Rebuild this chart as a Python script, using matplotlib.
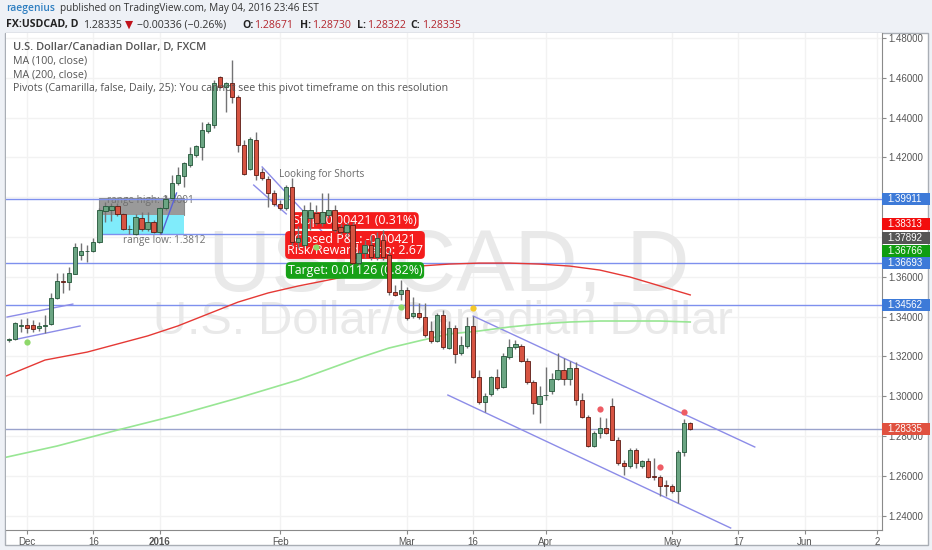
import matplotlib
matplotlib.use('Agg')
import matplotlib.pyplot as plt
import matplotlib.transforms as mtransforms
from matplotlib.patches import Rectangle
import numpy as np

plt.rcParams['font.family'] = ['Open Sans', 'DejaVu Sans']

# daily bars, bar 0 = 1 Dec 2015, last bar = 4 May 2016
first_bar = -3
opens = [1.3283, 1.3288, 1.3353, 1.3358, 1.3358, 1.3343, 1.3355, 1.3363, 1.3494, 1.3579,
         1.3574, 1.3614, 1.3710, 1.3728, 1.3730, 1.3775, 1.3931, 1.3936, 1.3956, 1.3916,
         1.3838, 1.3815, 1.3896, 1.3840, 1.3875, 1.3825, 1.3946, 1.3996, 1.4071, 1.4107,
         1.4162, 1.4212, 1.4252, 1.4333, 1.4363, 1.4604, 1.4554, 1.4574, 1.4504, 1.4262,
         1.4142, 1.4288, 1.4127, 1.4092, 1.4021, 1.3966, 1.3946, 1.4051, 1.3775, 1.3760,
         1.3896, 1.3921, 1.3870, 1.3911, 1.3936, 1.3850, 1.3825, 1.3860, 1.3669, 1.3720,
         1.3760, 1.3700, 1.3785, 1.3710, 1.3524, 1.3514, 1.3534, 1.3403, 1.3418, 1.3398,
         1.3328, 1.3278, 1.3408, 1.3242, 1.3343, 1.3217, 1.3252, 1.3353, 1.3097, 1.2971,
         1.3011, 1.3097, 1.3046, 1.3197, 1.3247, 1.3252, 1.3177, 1.3071, 1.2961, 1.3004,
         1.3026, 1.3087, 1.3132, 1.3087, 1.3142, 1.2981, 1.2896, 1.2750, 1.2815, 1.2840,
         1.2951, 1.2780, 1.2664, 1.2649, 1.2730, 1.2649, 1.2675, 1.2597, 1.2594, 1.2551,
         1.2549, 1.2524, 1.2720, 1.28671]
highs = [1.3293, 1.3373, 1.3388, 1.3393, 1.3383, 1.3373, 1.3408, 1.3519, 1.3619, 1.3619,
         1.3649, 1.3770, 1.3770, 1.3760, 1.3795, 1.3946, 1.3976, 1.3971, 1.3971, 1.3921,
         1.3860, 1.3916, 1.3926, 1.3926, 1.3886, 1.3951, 1.4011, 1.4112, 1.4152, 1.4177,
         1.4252, 1.4262, 1.4378, 1.4378, 1.4589, 1.4609, 1.4579, 1.4690, 1.4514, 1.4288,
         1.4303, 1.4328, 1.4147, 1.4107, 1.4036, 1.3986, 1.4061, 1.4097, 1.3855, 1.3961,
         1.3976, 1.3961, 1.4021, 1.4021, 1.3961, 1.3865, 1.3875, 1.3875, 1.3735, 1.3785,
         1.3810, 1.3825, 1.3835, 1.3735, 1.3559, 1.3584, 1.3549, 1.3499, 1.3468, 1.3468,
         1.3378, 1.3418, 1.3433, 1.3378, 1.3358, 1.3303, 1.3398, 1.3403, 1.3132, 1.3016,
         1.3102, 1.3137, 1.3217, 1.3288, 1.3283, 1.3262, 1.3192, 1.3082, 1.3051, 1.3147,
         1.3117, 1.3217, 1.3192, 1.3177, 1.3172, 1.3016, 1.2906, 1.2825, 1.2896, 1.2891,
         1.2991, 1.2795, 1.2680, 1.2740, 1.2740, 1.2680, 1.2690, 1.2690, 1.2604, 1.2579,
         1.2559, 1.2730, 1.2886, 1.28730]
lows = [1.3272, 1.3283, 1.3323, 1.3318, 1.3323, 1.3328, 1.3318, 1.3358, 1.3489, 1.3519,
        1.3534, 1.3614, 1.3684, 1.3674, 1.3725, 1.3770, 1.3875, 1.3880, 1.3906, 1.3835,
        1.3815, 1.3810, 1.3830, 1.3830, 1.3820, 1.3815, 1.3936, 1.3991, 1.4061, 1.4051,
        1.4152, 1.4202, 1.4187, 1.4323, 1.4348, 1.4549, 1.4428, 1.4473, 1.4227, 1.4112,
        1.4137, 1.4087, 1.4087, 1.3951, 1.3956, 1.3936, 1.3936, 1.3760, 1.3745, 1.3750,
        1.3835, 1.3860, 1.3855, 1.3896, 1.3825, 1.3815, 1.3805, 1.3659, 1.3659, 1.3695,
        1.3684, 1.3684, 1.3684, 1.3509, 1.3504, 1.3484, 1.3383, 1.3393, 1.3388, 1.3298,
        1.3267, 1.3272, 1.3237, 1.3237, 1.3167, 1.3207, 1.3242, 1.3092, 1.2961, 1.2921,
        1.3001, 1.3031, 1.3041, 1.3187, 1.3237, 1.3172, 1.3061, 1.2911, 1.2865, 1.2981,
        1.3011, 1.3082, 1.3056, 1.3056, 1.2956, 1.2891, 1.2745, 1.2745, 1.2790, 1.2810,
        1.2780, 1.2654, 1.2604, 1.2639, 1.2639, 1.2639, 1.2589, 1.2579, 1.2499, 1.2499,
        1.2514, 1.2464, 1.2700, 1.28322]
closes = [1.3288, 1.3368, 1.3358, 1.3343, 1.3338, 1.3353, 1.3358, 1.3494, 1.3579, 1.3574,
          1.3619, 1.3750, 1.3730, 1.3730, 1.3775, 1.3936, 1.3956, 1.3956, 1.3916, 1.3840,
          1.3840, 1.3901, 1.3840, 1.3875, 1.3825, 1.3946, 1.3991, 1.4071, 1.4112, 1.4172,
          1.4217, 1.4257, 1.4338, 1.4368, 1.4574, 1.4554, 1.4574, 1.4504, 1.4262, 1.4117,
          1.4293, 1.4112, 1.4097, 1.4021, 1.3966, 1.3946, 1.4051, 1.3775, 1.3795, 1.3936,
          1.3936, 1.3870, 1.3926, 1.3936, 1.3835, 1.3825, 1.3860, 1.3669, 1.3720, 1.3760,
          1.3700, 1.3795, 1.3700, 1.3524, 1.3509, 1.3534, 1.3393, 1.3418, 1.3398, 1.3308,
          1.3278, 1.3408, 1.3247, 1.3343, 1.3212, 1.3257, 1.3353, 1.3097, 1.2971, 1.3001,
          1.3097, 1.3041, 1.3202, 1.3247, 1.3262, 1.3177, 1.3071, 1.2966, 1.3001, 1.3006,
          1.3087, 1.3132, 1.3087, 1.3142, 1.2981, 1.2896, 1.2750, 1.2815, 1.2840, 1.2815,
          1.2780, 1.2664, 1.2649, 1.2730, 1.2664, 1.2675, 1.2594, 1.2594, 1.2549, 1.2549,
          1.2524, 1.2720, 1.2865, 1.28335]

# moving averages
ma100_bars = [-4, 3, 10, 20, 25, 30, 35, 40, 45, 50, 55, 60, 65, 70, 75, 80, 85, 90, 95, 100, 105, 110]
ma100 = [1.3095, 1.3182, 1.3222, 1.3303, 1.3353, 1.3413, 1.3473, 1.3519, 1.3554, 1.3584, 1.3614,
         1.3634, 1.3654, 1.3664, 1.3669, 1.3669, 1.3664, 1.3654, 1.3634, 1.3599, 1.3554, 1.3509]
ma200_bars = [-4, 5, 15, 25, 35, 45, 55, 60, 65, 70, 75, 80, 85, 90, 95, 100, 105, 110]
ma200 = [1.2690, 1.2750, 1.2830, 1.2906, 1.2991, 1.3082, 1.3192, 1.3242, 1.3278, 1.3313,
         1.3328, 1.3348, 1.3363, 1.3373, 1.3378, 1.3378, 1.3378, 1.3373]

# drawings
levels = [1.39911, 1.36693, 1.34562]
last_price = 1.28335
range_high = 1.3996
range_mid = 1.3911
range_low = 1.3815
range_bars = [12, 26]
trend_lines = [
    ([-3.3, 7.6], [1.3398, 1.3463]),
    ([-1.5, 8.8], [1.3288, 1.3353]),
    ([39.0, 49.8], [1.4152, 1.3800]),
    ([37.6, 43.0], [1.4061, 1.3916]),
    ([74.0, 120.7], [1.3403, 1.2745]),
    ([69.8, 116.7], [1.3006, 1.2338]),
]
jan_line = ([22.3, 24.8], [1.3815, 1.4021])
pivot_green = ([0, 48, 62], [1.3272, 1.3750, 1.3448])
pivot_yellow = ([74], [1.3443])
pivot_red = ([95, 105, 109], [1.2936, 1.2644, 1.2921])

y_ticks = [1.24, 1.26, 1.28, 1.30, 1.32, 1.34, 1.36, 1.38, 1.40, 1.42, 1.44, 1.46, 1.48]
x_tick_bars = [0, 11, 22, 42, 63, 74, 86, 107, 118, 129, 141]
x_tick_labels = ['Dec', '16', '2016', 'Feb', 'Mar', '16', 'Apr', 'May', '17', 'Jun', '2']

axis_tags = [1.39911, 1.38313, 1.37892, 1.36766, 1.36693, 1.34562, 1.28335]
axis_tag_colors = ['#3d7ad8', '#f20d0d', '#555555', '#0f9d0f', '#3d7ad8', '#3d7ad8', '#e0513f']
axis_tag_shift = [0.0, 0.0035, 0.0007, 0.0053, 0.0, 0.0003, 0.0]

W, H = 932, 550
fig = plt.figure(figsize=(W / 100, H / 100), dpi=100, facecolor='#eef1f6')
fig.patches.append(Rectangle((5 / W, 5 / H), 923 / W, 512 / H, transform=fig.transFigure,
                             fc='white', ec='#a9aeb5', lw=1, zorder=-5))
ax = fig.add_axes([6 / W, 20 / H, 876 / W, 497 / H])
ax.set_xlim(-3.48, 141.8)
ax.set_ylim(1.2328, 1.4825)

# grid
for yt in y_ticks:
    ax.axhline(yt, color='#f2f2f2', lw=1, zorder=0)
for xt in x_tick_bars:
    ax.axvline(xt, color='#f2f2f2', lw=1, zorder=0)

# watermark
ax.text(0.505, 0.527, 'USDCAD, D', transform=ax.transAxes, ha='center', va='center',
        fontsize=63, color='#e9e9e9', family='Liberation Sans', zorder=0.5)
ax.text(0.499, 0.418, 'U.S. Dollar/Canadian Dollar', transform=ax.transAxes, ha='center',
        va='center', fontsize=34, color='#e9e9e9', family='Liberation Sans', zorder=0.5)

# range box
ax.add_patch(Rectangle((range_bars[0], range_mid), range_bars[1] - range_bars[0],
                       range_high - range_mid, fc='#9a9a9a', ec='#8a8a8a', lw=0.8, zorder=1))
ax.add_patch(Rectangle((range_bars[0], range_low), range_bars[1] - range_bars[0],
                       range_mid - range_low, fc='#80ecfb', ec='none', zorder=1))
ax.text(13.3, 1.3981, 'range high: 1.4001', fontsize=7.2, color='#707070', va='center', zorder=1.5)
ax.text(15.9, 1.3780, 'range low: 1.3812', fontsize=7.2, color='#707070', va='center', zorder=1.5)
ax.plot([range_bars[0], 64], [range_low, range_low], color='#7e90ee', lw=1, zorder=2)

for lv in levels:
    ax.axhline(lv, color='#7e90ee', lw=1, zorder=2)
ax.axhline(last_price, color='#9aa3cc', lw=1, zorder=2)

for xs, ys in trend_lines:
    ax.plot(xs, ys, color='#8c8ce8', lw=1, zorder=2)
ax.plot(*jan_line, color='#5a62d8', lw=1, zorder=2)

ax.plot(ma100_bars, ma100, color='#e53935', lw=1, zorder=2)
ax.plot(ma200_bars, ma200, color='#98e694', lw=1.2, zorder=2)

ax.text(41.8, 1.4112, 'Looking for Shorts', fontsize=7.2, color='#6a6a6a', va='center', zorder=1.5)

# trade labels (candles sit on top of them)
box = dict(boxstyle='round,pad=0.15,rounding_size=0.35', ec='none')
ax.text(54.4, 1.3883, 'Stop: 0.00421 (0.31%)', fontsize=8.9, color='white', ha='center', va='center',
        zorder=3, bbox=dict(box, fc='#f41c1c'))
ax.text(54.4, 1.3760, 'Closed P&L: -0.00421\nRisk/Reward Ratio: 2.67', fontsize=8.9, color='white',
        ha='center', va='center', linespacing=0.82, zorder=3, bbox=dict(box, fc='#f41c1c'))
ax.text(54.4, 1.3632, 'Target: 0.01126 (0.82%)', fontsize=8.9, color='white', ha='center', va='center',
        zorder=3, bbox=dict(box, fc='#17a117'))

# candles
x = np.arange(first_bar, first_bar + len(opens))
o = np.array(opens)
c = np.array(closes)
up = c >= o
lo = np.minimum(o, c)
hgt = np.maximum(np.abs(c - o), 0.0003)
ax.vlines(x, lows, highs, color='#737375', lw=1, zorder=4)
ax.bar(x[up], hgt[up], 0.72, bottom=lo[up], color='#6ba583', edgecolor='#225437', lw=0.6, zorder=5)
ax.bar(x[~up], hgt[~up], 0.72, bottom=lo[~up], color='#d75442', edgecolor='#5b1a13', lw=0.6, zorder=5)

ax.plot(*pivot_green, 'o', color='#8ed86a', ms=4.5, mec='none', zorder=6)
ax.plot(*pivot_yellow, 'o', color='#f4c82a', ms=4.5, mec='none', zorder=6)
ax.plot(*pivot_red, 'o', color='#ee5c64', ms=4.5, mec='none', zorder=6)

# legend lines
leg = ['MA (100, close)', 'MA (200, close)',
       'Pivots (Camarilla, false, Daily, 25): You cannot see this pivot timeframe on this resolution']
ax.text(0.008, 0.971, 'U.S. Dollar/Canadian Dollar, D, FXCM', transform=ax.transAxes, fontsize=7.9,
        color='#555555', fontweight='semibold', va='center', zorder=7)
for i, t in enumerate(leg):
    ax.text(0.008, 0.943 - i * 0.0272, t, transform=ax.transAxes, fontsize=7.7, color='#555555',
            va='center', zorder=7)

# axes
for s in ['left', 'top']:
    ax.spines[s].set_visible(False)
for s in ['right', 'bottom']:
    ax.spines[s].set_color('#8a8a8a')
ax.yaxis.tick_right()
ax.set_yticks(y_ticks)
ax.set_yticklabels(['%.5f' % v for v in y_ticks])
ax.set_xticks(x_tick_bars)
ax.set_xticklabels(x_tick_labels)
ax.tick_params(axis='both', colors='#8a8a8a', labelcolor='#555555', labelsize=7, length=3, width=0.8)
ax.tick_params(axis='x', pad=2)
ax.tick_params(axis='y', pad=1.5)
for lab in ax.get_xticklabels() + ax.get_yticklabels():
    lab.set_family('Liberation Sans')
ax.get_xticklabels()[2].set_fontweight('bold')

bt = mtransforms.blended_transform_factory(ax.transAxes, ax.transData)
for v, col, sh in zip(axis_tags, axis_tag_colors, axis_tag_shift):
    ax.add_patch(Rectangle((1.0, v + sh - 0.003), 48 / 876, 0.006, transform=bt, fc=col, ec='none',
                           clip_on=False, zorder=8))
    ax.text(1.0 + 5 / 876, v + sh, '%.5f' % v, transform=bt, color='white', fontsize=7,
            family='Liberation Sans', va='center', ha='left', clip_on=False, zorder=9)

# header, pieces placed at their pixel columns
line1 = [(6, 'raegenius', '#2f7fc1', 'semibold', 7.4),
         (60, 'published on TradingView.com, May 04, 2016 23:46 EST', '#333333', 'normal', 7.2)]
line2 = [(6, 'FX:USDCAD, D', '#222222', 'bold', 7.6),
         (83, '1.28335', '#333333', 'normal', 7.6),
         (125, '\u25bc', '#c0121b', 'normal', 7.6),
         (137, '\u22120.00336 (\u22120.26%)', '#333333', 'normal', 7.6),
         (242, 'O:', '#222222', 'bold', 7.6), (254, '1.28671', '#b3262e', 'normal', 7.6),
         (300, 'H:', '#222222', 'bold', 7.6), (312, '1.28730', '#b3262e', 'normal', 7.6),
         (357, 'L:', '#222222', 'bold', 7.6), (367, '1.28322', '#b3262e', 'normal', 7.6),
         (410, 'C:', '#222222', 'bold', 7.6), (422, '1.28335', '#b3262e', 'normal', 7.6)]
for row, ypx in ((line1, 9), (line2, 25)):
    for xpx, txt, col, wt, fs in row:
        fig.text(xpx / W, 1 - ypx / H, txt, color=col, fontweight=wt, fontsize=fs, va='center')

fig.savefig('out.png', dpi=100, facecolor=fig.get_facecolor())
